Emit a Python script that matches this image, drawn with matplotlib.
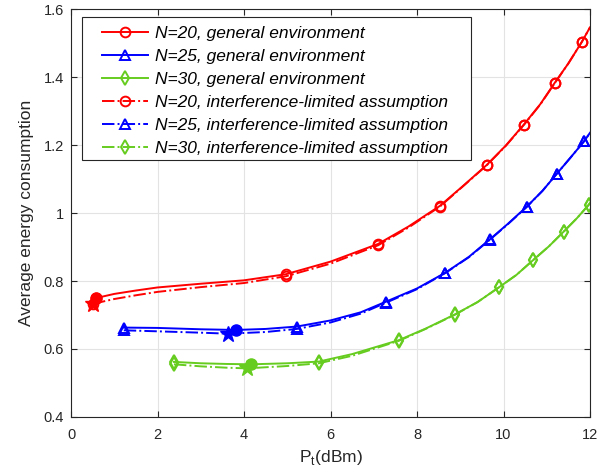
import matplotlib
matplotlib.use("Agg")
import matplotlib.pyplot as plt
from matplotlib.patches import Rectangle

plt.rcParams["font.family"] = ["Liberation Sans", "DejaVu Sans"]

# N=20
red_x = [0.585, 1.0, 1.5, 2.0, 3.0, 4.0, 4.97, 6.0, 7.10, 7.8, 8.53, 9.05, 9.61, 10.05, 10.47, 10.85, 11.18, 11.5, 11.81, 12.0]
red_gen = [0.750, 0.762, 0.772, 0.781, 0.792, 0.802, 0.820, 0.857, 0.909, 0.960, 1.021, 1.078, 1.141, 1.198, 1.260, 1.320, 1.382, 1.440, 1.503, 1.546]
red_lim_x = [0.51, 1.0, 1.5, 2.0, 3.0, 4.0, 4.97, 6.0, 7.10, 7.8, 8.53, 9.05, 9.61, 10.05, 10.47, 10.85, 11.18, 11.5, 11.81, 12.0]
red_lim = [0.733, 0.747, 0.758, 0.768, 0.782, 0.794, 0.814, 0.851, 0.905, 0.957, 1.019, 1.077, 1.140, 1.197, 1.259, 1.319, 1.381, 1.440, 1.503, 1.546]
red_mark = [0, 6, 8, 10, 12, 14, 16, 18]

# N=25
blue_x = [1.22, 2.0, 3.0, 3.81, 4.5, 5.22, 6.0, 6.7, 7.28, 8.0, 8.65, 9.2, 9.69, 10.1, 10.54, 10.9, 11.23, 11.55, 11.87, 12.0]
blue_gen = [0.663, 0.662, 0.658, 0.656, 0.659, 0.666, 0.684, 0.708, 0.739, 0.778, 0.824, 0.871, 0.923, 0.968, 1.019, 1.065, 1.115, 1.163, 1.212, 1.236]
blue_lim_x = [1.22, 2.0, 3.0, 3.64, 4.5, 5.22, 6.0, 6.7, 7.28, 8.0, 8.65, 9.2, 9.69, 10.1, 10.54, 10.9, 11.23, 11.55, 11.87, 12.0]
blue_lim = [0.655, 0.652, 0.648, 0.645, 0.650, 0.659, 0.678, 0.704, 0.736, 0.776, 0.823, 0.870, 0.922, 0.967, 1.018, 1.065, 1.115, 1.163, 1.212, 1.236]
blue_mark = [0, 5, 8, 10, 12, 14, 16, 18]

# N=30
green_x = [2.38, 3.0, 3.6, 4.17, 5.0, 5.73, 6.5, 7.58, 8.2, 8.88, 9.4, 9.89, 10.3, 10.69, 11.05, 11.39, 11.7, 11.97, 12.0]
green_gen = [0.562, 0.558, 0.556, 0.555, 0.558, 0.563, 0.585, 0.626, 0.660, 0.702, 0.738, 0.781, 0.818, 0.862, 0.902, 0.945, 0.985, 1.024, 1.030]
green_lim_x = [2.38, 3.0, 3.6, 4.06, 5.0, 5.73, 6.5, 7.58, 8.2, 8.88, 9.4, 9.89, 10.3, 10.69, 11.05, 11.39, 11.7, 11.97, 12.0]
green_lim = [0.555, 0.549, 0.545, 0.543, 0.550, 0.558, 0.580, 0.624, 0.659, 0.701, 0.738, 0.781, 0.818, 0.862, 0.902, 0.945, 0.985, 1.024, 1.030]
green_mark = [0, 5, 7, 9, 11, 13, 15, 17]

# optimum points: filled dot (general), star (interference-limited)
opt_gen_x = [0.585, 3.81, 4.17]
opt_gen_y = [0.750, 0.656, 0.555]
opt_lim_x = [0.51, 3.64, 4.06]
opt_lim_y = [0.733, 0.645, 0.543]

RED, BLUE, GREEN = "#ff0000", "#0000ff", "#66cc1f"
colors = [RED, BLUE, GREEN]
DARK = "#262626"

fig = plt.figure(figsize=(6.13, 4.76), dpi=100)
ax = fig.add_axes([71 / 613, 1 - 417 / 476, 519 / 613, 408 / 476])

kw = dict(lw=1.4, ms=7, mew=1.4, mfc="none")
ax.plot(red_x, red_gen, "-", marker="o", color=RED, markevery=red_mark, label="N=20, general environment", **kw)
ax.plot(blue_x, blue_gen, "-", marker="^", color=BLUE, markevery=blue_mark, label="N=25, general environment", **kw)
ax.plot(green_x, green_gen, "-", marker="d", color=GREEN, markevery=green_mark, label="N=30, general environment", **kw)
ax.plot(red_lim_x, red_lim, "-.", marker="o", color=RED, markevery=red_mark, label="N=20, interference-limited assumption", **kw)
ax.plot(blue_lim_x, blue_lim, "-.", marker="^", color=BLUE, markevery=blue_mark, label="N=25, interference-limited assumption", **kw)
ax.plot(green_lim_x, green_lim, "-.", marker="d", color=GREEN, markevery=green_mark, label="N=30, interference-limited assumption", **kw)

for i, c in enumerate(colors):
    ax.plot(opt_gen_x[i], opt_gen_y[i], "o", color=c, ms=8)
    ax.plot(opt_lim_x[i], opt_lim_y[i], "*", color=c, ms=12)

ax.set_xlim(0, 12)
ax.set_ylim(0.4, 1.6)
ax.set_xticks(range(0, 13, 2))
ax.set_yticks([0.4, 0.6, 0.8, 1.0, 1.2, 1.4, 1.6])
ax.set_yticklabels(["0.4", "0.6", "0.8", "1", "1.2", "1.4", "1.6"])
ax.tick_params(direction="in", labelsize=10.5, color=DARK, labelcolor=DARK, top=True, right=True, length=4)
ax.tick_params(axis="x", pad=8)
ax.tick_params(axis="y", pad=5)
ax.grid(True, color="#e3e3e3", lw=0.8)
ax.set_axisbelow(True)
for s in ax.spines.values():
    s.set_color(DARK)
    s.set_linewidth(0.8)

ax.set_xlabel(r"P$_\mathregular{t}$(dBm)", fontsize=12.5, color=DARK, labelpad=4)
ax.set_ylabel("Average energy consumption", fontsize=12.5, color=DARK, labelpad=7)

# legend box drawn by hand (MATLAB-style padding), entries without frame
ax.add_patch(Rectangle((0.0212, 0.630), 0.7495, 0.350, transform=ax.transAxes,
                       facecolor="white", edgecolor=DARK, lw=0.8, zorder=5))
leg = ax.legend(loc="upper left", bbox_to_anchor=(0.059, 0.959), borderaxespad=0,
                prop={"style": "italic", "size": 12.5}, handlelength=2.7,
                handletextpad=0.35, labelspacing=0.45, borderpad=0,
                frameon=False)
leg.set_zorder(6)

fig.savefig("out.png", dpi=100)
